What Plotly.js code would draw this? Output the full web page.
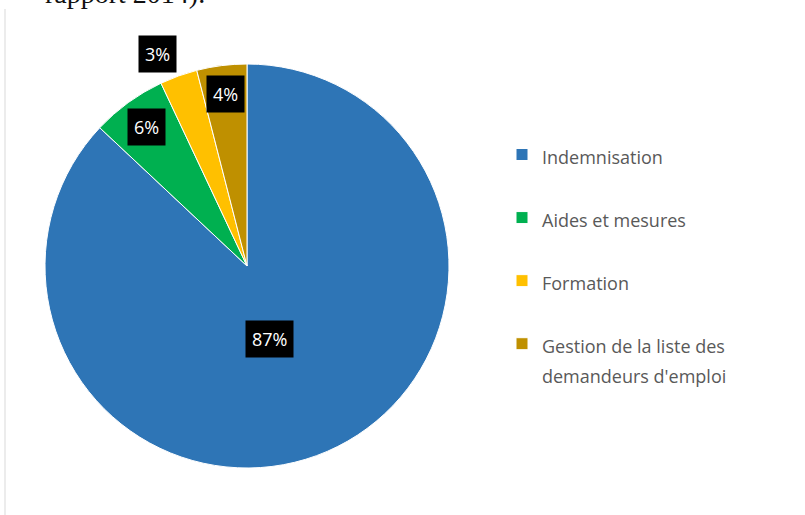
<!DOCTYPE html>
<html>
<head>
<meta charset="utf-8">
<script src="https://cdn.plot.ly/plotly-3.0.1.min.js"></script>
<style>html,body{margin:0;padding:0;background:#fff;}#chart{width:805px;height:515px;}</style>
</head>
<body>
<div id="chart"></div>
<script>
const labels = ['Indemnisation', 'Aides et mesures', 'Formation', "Gestion de la liste des<br>demandeurs d'emploi"];
const values = [87, 6, 3, 4];
const colors = ['#2E75B6', '#00B050', '#FFC000', '#BF9000'];
const percentText = ['87%', '6%', '3%', '4%'];
// placement of each label box: fraction of the radius, and angular nudge in degrees
const labelRadius = [0.38, 0.85, 1.14, 0.86];
const labelAngleShift = [6, 0, -3, 0];
const headerText = 'rapport 2014).';

const W = 805, H = 515;
const dom = {x: [45 / W, 449 / W], y: [47 / H, 451 / H]};
const legendFont = 23.1;
const legendLabels = labels.map(l => {
  const parts = l.split('<br>');
  const inner = parts.map(p => '<span style="font-size:18px">' + p + '</span>').join('<br>');
  return parts.length > 1 ? inner : inner + '<br> ';
});

const total = values.reduce((a, b) => a + b, 0);
const rPx = Math.min((dom.x[1] - dom.x[0]) * W, (dom.y[1] - dom.y[0]) * H) / 2;
const cx = (dom.x[0] + dom.x[1]) / 2, cy = (dom.y[0] + dom.y[1]) / 2;
let cum = 0;
const annotations = values.map((v, i) => {
  const theta = 2 * Math.PI * (cum + v / 2) / total + labelAngleShift[i] * Math.PI / 180;
  cum += v;
  return {
    xref: 'paper', yref: 'paper',
    x: cx + rPx * labelRadius[i] * Math.sin(theta) / W,
    y: cy + rPx * labelRadius[i] * Math.cos(theta) / H,
    xanchor: 'center', yanchor: 'middle',
    text: percentText[i], showarrow: false,
    bgcolor: '#000000', borderpad: 6,
    font: {family: 'Open Sans, sans-serif', size: 18, color: '#ffffff'}
  };
});
annotations.push({
  xref: 'paper', yref: 'paper', x: 43 / W, y: 1 + 6 / H, xanchor: 'left', yanchor: 'middle',
  text: headerText, showarrow: false,
  font: {family: 'Liberation Serif, serif', size: 28, color: '#111111'}
});

const trace = {
  type: 'pie',
  labels: legendLabels,
  values: values,
  sort: false,
  direction: 'clockwise',
  rotation: 0,
  textinfo: 'none',
  hoverinfo: 'percent',
  marker: {colors: colors, line: {color: '#ffffff', width: 1}},
  domain: dom
};

const layout = {
  width: W, height: H,
  margin: {l: 0, r: 0, t: 0, b: 0},
  paper_bgcolor: '#ffffff',
  showlegend: true,
  legend: {
    x: 502 / W, xanchor: 'left', y: 1 - 133 / H, yanchor: 'top',
    valign: 'top',
    font: {family: 'Open Sans, sans-serif', size: legendFont, color: '#595959'}
  },
  annotations: annotations,
  shapes: [{type: 'line', xref: 'paper', yref: 'paper', x0: 5 / W, x1: 5 / W, y0: 0, y1: 1 - 9 / H,
    line: {color: '#d9d9d9', width: 1}}]
};

Plotly.newPlot('chart', [trace], layout, {displayModeBar: false, staticPlot: true});
</script>
</body>
</html>
